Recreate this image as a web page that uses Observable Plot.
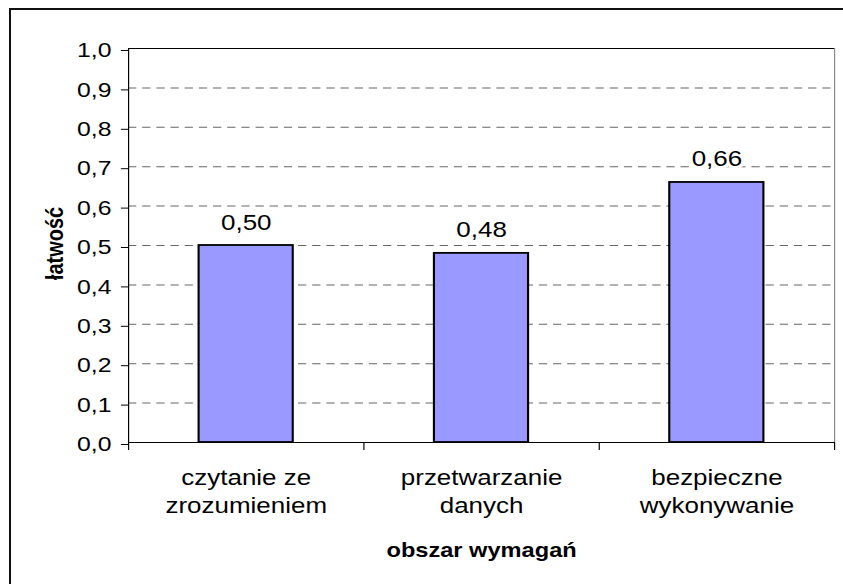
<!DOCTYPE html>
<html>
<head>
<meta charset="utf-8">
<script src="https://cdn.jsdelivr.net/npm/d3@7"></script>
<script src="https://cdn.jsdelivr.net/npm/@observablehq/plot@0.6"></script>
<style>
html,body{margin:0;padding:0;background:#fff;overflow:hidden;width:843px;height:584px;}
#chart{position:absolute;left:0;top:0;}
#chart svg{transform:scaleX(1.18067);transform-origin:0 0;display:block;max-width:none;}
#frame{position:absolute;left:9px;top:8px;width:900px;height:700px;border-top:2px solid #111;border-left:2px solid #111;pointer-events:none;}
</style>
</head>
<body>
<div id="chart"></div>
<div id="frame"></div>
<script>
const categories = ["czytanie ze\nzrozumieniem", "przetwarzanie\ndanych", "bezpieczne\nwykonywanie"];
const values = [0.50, 0.48, 0.66];
const valueLabels = ["0,50", "0,48", "0,66"];
const yTicks = [0.0, 0.1, 0.2, 0.3, 0.4, 0.5, 0.6, 0.7, 0.8, 0.9, 1.0];
const yTitle = "łatwość";
const xTitle = "obszar wymagań";

const W = 714, sx = 843 / W;
const data = categories.map((c, i) => ({c, i, v: values[i], label: valueLabels[i]}));
const boundaries = categories.map((c, i) => i).concat([categories.length]);
const fmt = d => d.toFixed(1).replace(".", ",");

const chart = Plot.plot({
  width: W,
  height: 584,
  marginLeft: 128 / sx,
  marginRight: 9 / sx,
  marginTop: 48,
  marginBottom: 142,
  style: {fontFamily: "'Liberation Sans', Arial, sans-serif", fontSize: "21px", color: "#000", background: "transparent", overflow: "visible"},
  x: {domain: [0, categories.length], axis: null},
  y: {domain: [0, 1], axis: null},
  marks: [
    Plot.ruleY(yTicks.filter(t => t > 0 && t < 1), {stroke: "#666", strokeWidth: 1, strokeDasharray: "7,5"}),
    Plot.ruleY([1], {stroke: "#000", strokeWidth: 1}),
    Plot.ruleX([categories.length], {y1: 0, y2: 1, stroke: "#888", strokeWidth: 1}),
    Plot.rectY(data, {x1: d => d.i + 0.3, x2: d => d.i + 0.7, y: "v", fill: "#9999FF", stroke: "#000", strokeWidth: 1.8}),
    Plot.text(data, {x: d => d.i + 0.5, y: "v", text: "label", dy: -16, lineAnchor: "bottom", fontSize: 22, fill: "#000", stroke: "white", strokeWidth: 6}),
    Plot.ruleY([0], {stroke: "#000", strokeWidth: 1}),
    Plot.ruleX([0], {y1: 0, y2: 1, stroke: "#000", strokeWidth: 1}),
    Plot.axisY({ticks: yTicks, tickFormat: fmt, tickSize: 6, tickPadding: 8.5, fontSize: 21, dy: 2, label: null}),
    Plot.axisX({ticks: boundaries, tickFormat: () => "", tickSize: 8, label: null}),
    Plot.text(data, {x: d => d.i + 0.5, y: 0, text: "c", lineAnchor: "bottom", dy: 70, fontSize: 22, lineHeight: 1.25, fill: "#000"}),
    Plot.text([xTitle], {frameAnchor: "bottom", text: d => d, dy: 114.7, lineAnchor: "bottom", textAnchor: "middle", fontWeight: "bold", fontSize: 20, fill: "#000"}),
    Plot.text([yTitle], {frameAnchor: "left", text: d => d, rotate: -90, dx: -61.8, dy: -2, textAnchor: "middle", lineAnchor: "middle", fontWeight: "bold", fontSize: 20, fill: "#000"})
  ]
});
document.getElementById("chart").appendChild(chart);
</script>
</body>
</html>
